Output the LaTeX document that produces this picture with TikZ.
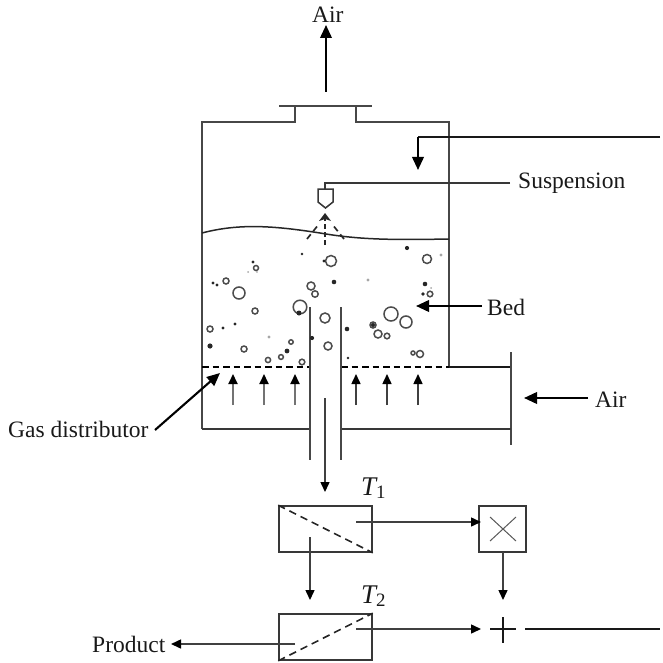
\documentclass[tikz,border=0pt]{standalone}
\usepackage{fontspec}
\setmainfont{Liberation Serif}
\usetikzlibrary{arrows.meta}
\tikzset{
 wall/.style={draw=black!72,line width=1.9pt},
 thin wall/.style={draw=black!78,line width=1.5pt},
 flow/.style={draw=black!75,line width=1.5pt,-{Triangle[length=10pt,width=9pt,fill=black,color=black]}},
 heavy flow/.style={draw=black,line width=2.1pt,-{Triangle[length=13pt,width=11.5pt]}},
 dist/.style={draw=black,line width=1.8pt,dash pattern=on 6.5pt off 4pt},
 diag/.style={draw=black!85,line width=1.6pt,dash pattern=on 7.5pt off 5pt},
 lbl/.style={font=\fontsize{23.5}{26}\selectfont,inner sep=0pt,text=black!90,anchor=base west},
 tl/.style={font=\fontsize{27}{30}\selectfont\itshape,inner sep=0pt,text=black!90,anchor=base west},
 bub/.style={draw=black!70,line width=1.5pt,fill=white},
 dotb/.style={fill=black!85,draw=none},
 dotg/.style={fill=black!35,draw=none},
 box/.style={draw=black!78,line width=1.6pt,minimum width=93pt,minimum height=46pt,inner sep=0pt},
 xbox/.style={draw=black!78,line width=1.6pt,minimum width=47pt,minimum height=46pt,inner sep=0pt}
}
\begin{document}
\begin{tikzpicture}[x=1pt,y=-1pt]
\useasboundingbox (0,0) rectangle (662,663);
% labels
\node[lbl] (airtop) at (312,23) {Air};
\node[lbl] (susp) at (518,188) {Suspension};
\node[lbl] (bed) at (487,315) {Bed};
\node[lbl] (airr) at (595,407) {Air};
\node[lbl] (gd) at (8,437) {Gas distributor};
\node[lbl] (prod) at (92,652) {Product};
\node[tl] (t1) at (361,495) {T\textsubscript{\upshape 1}};
\node[tl] (t2) at (361,603) {T\textsubscript{\upshape 2}};
% vessel
\draw[wall] (202,429) -- (202,122) -- (295,122) -- (295,106);
\draw[wall] (356,106) -- (356,122) -- (449,122) -- (449,367);
\draw[wall] (279,106) -- (372,106);
\draw[line width=1.5pt,black!85] (202,233) .. controls (240,223) and (275,226) .. (320,233) .. controls (360,240) and (395,240) .. (449,239);
% distributor, walls, pipes
\draw[dist] (202,367) -- (310,367);
\draw[dist] (341,367) -- (449,367);
\draw[wall,draw=black!90] (449,367) -- (511,367);
\draw[wall] (511,352) -- (511,445);
\draw[thin wall] (202,429) -- (310,429);
\draw[thin wall] (341,429) -- (511,429);
\draw[wall] (310,307) -- (310,460);
\draw[wall] (341,307) -- (341,460);
% distributor arrows
\foreach \x in {233,264,295}
  \draw[flow,draw=black!55,line width=2pt] (\x,405) -- (\x,374);
\foreach \x in {356,387,418}
  \draw[flow] (\x,405) -- (\x,374);
% bubbles
\foreach \x/\y/\r in {331/261/5.5,256/268/2.5,226/281/3,239/293/6,255/311/3,300/307/6.8,311/286/4,315/294/3.2,325/318/5,328/346/4,210/329/3,244/349/3,268/360/2.6,281/357/2.4,291/342/2.2,302/362/2.8,427/259/4.5,430/294/2.8,391/314/7,406/322/6,378/334/4,387/336/2.8,373/325/3,420/354/3.5,413/353/2}
  \draw[bub] (\x,\y) circle (\r);
% dots
\foreach \x/\y/\r in {253/262/1.6,213/283/1.6,217/285/1.6,235/324/1.7,223/328/1.7,210/346/2.6,287/351/2.4,302/254/1.3,324/261/1.6,334/282/2.3,407/248/2.1,425/284/2.3,423/294/1.8,347/329/2.3,312/338/2.1,348/358/1.3,299/313/2.5,373/325/2,257/272/0.7}
  \fill[dotb] (\x,\y) circle (\r);
\foreach \x/\y/\r in {248/272/1,269/337/1.7,368/280/1.7,441/255/1.6,431/288/1}
  \fill[dotg] (\x,\y) circle (\r);
% nozzle
\coordinate (feedn) at (325,183);
\coordinate (sl) at (510,183);
\draw[thin wall] (sl) -- (feedn) -- (325,189);
\draw[thin wall,fill=white] (318,189) -- (333,189) -- (333,202) -- (325.5,208) -- (318,202) -- cycle;
\draw[line width=1.7pt,black!85,dash pattern=on 5pt off 3pt] (325,245) -- (325,217);
\fill[black!85] (325,213) -- (331,221) -- (325,219) -- (319,221) -- cycle;
\draw[line width=1.7pt,black!85,dash pattern=on 6pt off 4pt] (307,239) -- (319,224);
\draw[line width=1.7pt,black!85,dash pattern=on 6pt off 4pt] (344,239) -- (332,224);
% external lines and arrows
\coordinate (air0) at (326,92); \coordinate (air1) at (326,25);
\draw[heavy flow] (air0) -- (air1);
\coordinate (rt) at (660,137); \coordinate (rk) at (418,137); \coordinate (rd) at (418,170);
\draw[line width=2.1pt,black!90] (rt) -- (rk);
\draw[heavy flow] (rk) -- (rd);
\coordinate (bed0) at (482,306); \coordinate (bed1) at (416,306);
\draw[heavy flow] (bed0) -- (bed1);
\coordinate (ar0) at (588,398); \coordinate (ar1) at (524,398);
\draw[heavy flow] (ar0) -- (ar1);
\coordinate (gd0) at (155,430); \coordinate (gd1) at (220,373);
\draw[heavy flow] (gd0) -- (gd1);
% lower part
\node[box] (b1) at (325.5,529) {};
\node[box] (b2) at (325.5,637) {};
\node[xbox] (bx) at (502.5,529) {};
\draw[diag] (b1.north west) -- (b1.south east);
\draw[diag] (b2.south west) -- (b2.north east);
\draw[line width=1pt,black!65] (490,517) -- (516,541) (516,517) -- (490,541);
\coordinate (pin) at (325,398); \coordinate (pout) at (325,492);
\draw[flow] (pin) -- (pout);
\coordinate (a0) at (356,522); \coordinate (a1) at (481,522);
\draw[flow] (a0) -- (a1);
\coordinate (d0) at (310,537); \coordinate (d1) at (310,600);
\draw[flow] (d0) -- (d1);
\coordinate (e0) at (503,552); \coordinate (e1) at (503,600);
\draw[flow] (e0) -- (e1);
\coordinate (f0) at (356,629); \coordinate (f1) at (481,629);
\draw[flow] (f0) -- (f1);
\coordinate (g0) at (295,644); \coordinate (g1) at (171,644);
\draw[flow] (g0) -- (g1);
\coordinate (plus) at (503,629);
\draw[line width=2.1pt,black!90] (490,629) -- (516,629) (503,617) -- (503,643);
\coordinate (h0) at (525,629); \coordinate (h1) at (660,629);
\draw[line width=2.1pt,black!90] (h0) -- (h1);
\end{tikzpicture}
\end{document}
